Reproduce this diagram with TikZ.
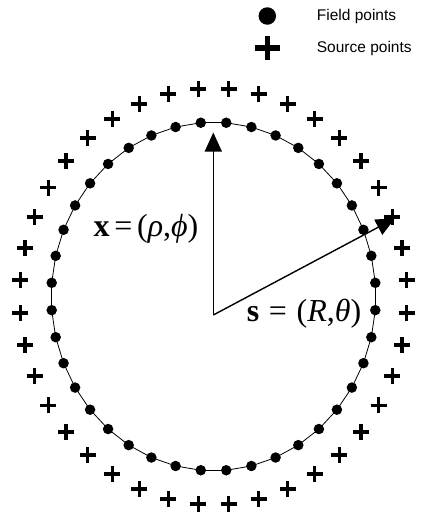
\documentclass[tikz,border=0pt]{standalone}
\usepackage{fontspec}
\setmainfont{Liberation Serif}
\newfontfamily\legendfont{Liberation Sans}
\usetikzlibrary{arrows.meta,shapes.misc}
\begin{document}
\begin{tikzpicture}[x=1pt,y=-1pt,
  fieldpt/.style={circle,fill=black,inner sep=0pt,minimum size=10.5pt},
  srcpt/.style={cross out,draw=black,rotate=45,inner sep=0pt,minimum size=7.8pt,line width=3.5pt},
  ring/.style={line width=0.8pt},
  vec/.style={line width=1.4pt,-{Triangle[length=19pt,width=17pt]}},
  eqlabel/.style={font=\fontsize{32}{36}\selectfont,inner sep=0pt,anchor=base west},
  legtext/.style={font=\legendfont\fontsize{15.5}{18}\selectfont,inner sep=0pt,anchor=base west}]
\useasboundingbox (0,0) rectangle (422,514);
\foreach \i in {1,...,40}{
  \pgfmathsetmacro\a{9*\i-4.5}
  \node[fieldpt] (f\i) at ({213.5+162.3*cos(\a)},{296.5-174.3*sin(\a)}) {};
  \node[srcpt] (s\i) at ({213.5+193.7*cos(\a)},{296.5-208.3*sin(\a)}) {};
}
\foreach \i [remember=\i as \j (initially 40)] in {1,...,40}{
  \draw[ring] (f\j.center) -- (f\i.center);
}
\coordinate (O) at (213.3,315);
\coordinate (xtip) at (213.3,132.5);
\coordinate (stip) at (395,218.3);
\draw[vec] (O) -- (xtip);
\draw[vec] (O) -- (stip);
\node[eqlabel] (xlab) at (93.3,236.7) {\textbf{x}\hspace{0.15em}=\hspace{0.15em}(\textit{ρ},\textit{ϕ})};
\node[eqlabel] (slab) at (246.7,321.7) {\textbf{s}\hspace{0.3em}=\hspace{0.3em}(\textit{R},\textit{θ})};
\node[fieldpt,minimum size=17.5pt] (legf) at (267.3,16) {};
\node[srcpt,minimum size=12pt,line width=5.6pt] (legs) at (267.3,48) {};
\node[legtext] (legft) at (316.7,20.7) {Field points};
\node[legtext] (legst) at (316.7,52.7) {Source points};
\end{tikzpicture}
\end{document}
